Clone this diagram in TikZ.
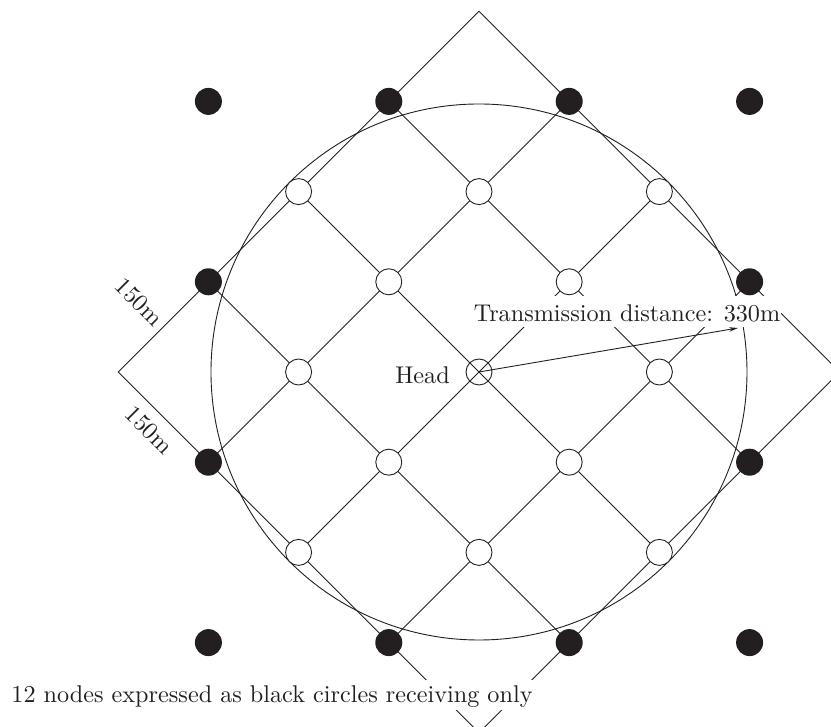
\documentclass[tikz,border=0pt]{standalone}
\usetikzlibrary{arrows.meta,backgrounds}
\definecolor{ink}{HTML}{231F20}
\newcommand{\bigtext}[1]{\scalebox{2.42}{\fontsize{10pt}{12pt}\selectfont #1}}
\tikzset{
  mesh/.style={draw=ink,line width=0.9pt},
  rx/.style={circle,fill=ink,minimum size=27pt,inner sep=0pt},
  tx/.style={circle,draw=ink,fill=white,line width=0.9pt,minimum size=26pt,inner sep=0pt},
  hd/.style={circle,draw=ink,line width=0.9pt,minimum size=26pt,inner sep=0pt},
  lbl/.style={text=ink,fill=white,inner sep=0pt}
}
\begin{document}
\begin{tikzpicture}[x=90.2pt,y=90.2pt]
\clip (-479pt,-355pt) rectangle (352pt,372pt);

% corners of the outer square
\coordinate (q48) at (0,4);
\coordinate (q04) at (-4,0);
\coordinate (q84) at (4,0);
\coordinate (q40) at (0,-4);

% receiving-only nodes
\node[rx] (k1) at (-3,3) {};
\node[rx] (k2) at (3,3) {};
\node[rx] (k3) at (-3,-3) {};
\node[rx] (k4) at (3,-3) {};
\foreach \a/\b in {3/7,5/7,1/5,7/5,1/3,7/3,3/1,5/1}
  \node[rx] (q\a\b) at (\a-4,\b-4) {};

% relaying nodes
\foreach \a/\b in {2/6,4/6,6/6,3/5,5/5,2/4,6/4,3/3,5/3,2/2,4/2,6/2}
  \node[tx] (q\a\b) at (\a-4,\b-4) {};

% head node
\node[hd] (q44) at (0,0) {};

\begin{scope}[on background layer]
  \draw[mesh] (q04) -- (q48) -- (q84) -- (q40) -- cycle;
  \draw[mesh] (q13.center) -- (q24.center) -- (q35.center) -- (q46.center) -- (q57.center);
  \draw[mesh] (q22.center) -- (q33.center) -- (q44.center) -- (q55.center) -- (q66.center);
  \draw[mesh] (q31.center) -- (q42.center) -- (q53.center) -- (q64.center) -- (q75.center);
  \draw[mesh] (q15.center) -- (q24.center) -- (q33.center) -- (q42.center) -- (q51.center);
  \draw[mesh] (q26.center) -- (q35.center) -- (q44.center) -- (q53.center) -- (q62.center);
  \draw[mesh] (q37.center) -- (q46.center) -- (q55.center) -- (q64.center) -- (q73.center);
  % transmission range of the head
  \draw[mesh] (q44.center) circle (268pt);
\end{scope}

% labels
\node[lbl,anchor=base,text height=26pt,text depth=5pt,inner xsep=1pt] (range) at (148pt,50pt)
  {\bigtext{Transmission distance: 330m}};
\node[lbl,anchor=base] (headlbl) at (-56.5pt,-12pt) {\bigtext{Head}};
\node[lbl,rotate=-45] (d1) at (-340pt,70pt) {\bigtext{150m}};
\node[lbl,rotate=-45] (d2) at (-330pt,-58pt) {\bigtext{150m}};
\node[lbl,anchor=base,text height=23pt,text depth=7pt,inner xsep=1pt] (note) at (-207pt,-331pt)
  {\bigtext{12 nodes expressed as black circles receiving only}};

% range arrow
\coordinate (reach) at (259pt,44pt);
\draw[mesh,-{Stealth[length=9pt,width=4.5pt]}] (q44.center) -- (reach);
\end{tikzpicture}
\end{document}
